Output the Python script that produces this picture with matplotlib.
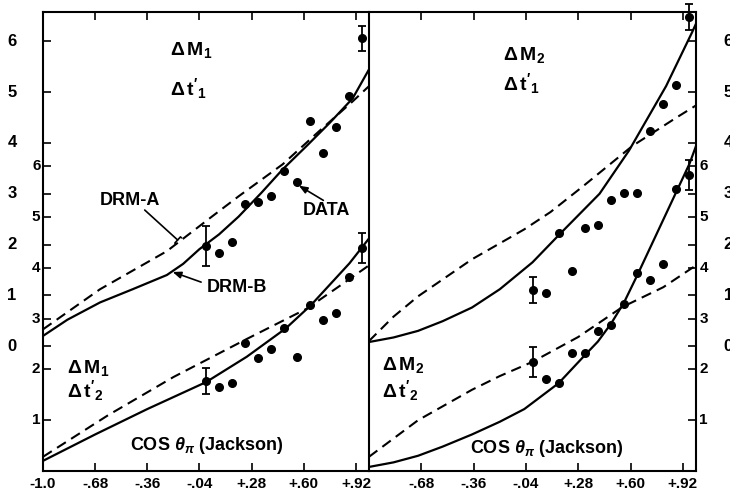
import matplotlib
matplotlib.use("Agg")
import matplotlib.pyplot as plt
import numpy as np

plt.rcParams["font.family"] = ["Liberation Sans", "DejaVu Sans"]
plt.rcParams["font.weight"] = "bold"
plt.rcParams["mathtext.fontset"] = "custom"
plt.rcParams["mathtext.rm"] = "Liberation Sans:bold"
plt.rcParams["mathtext.it"] = "Liberation Sans:bold:italic"
plt.rcParams["mathtext.bf"] = "Liberation Sans:bold"
plt.rcParams["mathtext.sf"] = "Liberation Sans:bold"

# x axis
x_ticks = [-1.0, -0.68, -0.36, -0.04, 0.28, 0.60, 0.92]
x_labels = ["-1.0", "-.68", "-.36", "-.04", "+.28", "+.60", "+.92"]

# upper curves use the outer scale, lower curves the inner scale
OFFSET = 2.46
YTOP = 9.04
outer_ticks = [0, 1, 2, 3, 4, 5, 6]
inner_ticks = [1, 2, 3, 4, 5, 6]

# data points (cos theta bins)
cos_bins = [0.0, 0.08, 0.16, 0.24, 0.32, 0.40, 0.48, 0.56, 0.64, 0.72, 0.80, 0.88, 0.96]
err_idx = [0, 12]

m1_t1 = [1.97, 1.83, 2.05, 2.80, 2.84, 2.96, 3.45, 3.23, 4.43, 3.80, 4.31, 4.92, 6.06]
m1_t1_err = [0.40, 0.25]
m1_t2 = [1.77, 1.65, 1.73, 2.52, 2.22, 2.40, 2.81, 2.24, 3.27, 2.97, 3.11, 3.82, 4.39]
m1_t2_err = [0.25, 0.30]
m2_t1 = [1.10, 1.04, 2.22, 1.48, 2.32, 2.38, 2.87, 3.01, 3.01, 4.23, 4.76, 5.14, 6.48]
m2_t1_err = [0.26, 0.25]
m2_t2 = [2.15, 1.81, 1.73, 2.32, 2.32, 2.76, 2.87, 3.29, 3.90, 3.76, 4.07, 5.55, 5.83]
m2_t2_err = [0.30, 0.30]

# model curves: DRM-B solid, DRM-A dashed
m1_t1_b_x = [-1.0, -0.85, -0.65, -0.45, -0.24, -0.14, -0.04, 0.08, 0.2, 0.34, 0.47, 0.62, 0.76, 0.9, 1.0]
m1_t1_b_y = [0.20, 0.52, 0.86, 1.12, 1.40, 1.62, 1.91, 2.20, 2.55, 3.02, 3.48, 3.95, 4.40, 4.88, 5.45]
m1_t1_a_x = [-1.0, -0.65, -0.24, 0.04, 0.2, 0.47, 0.7, 0.9, 1.0]
m1_t1_a_y = [0.33, 1.12, 1.87, 2.56, 2.95, 3.58, 4.25, 4.82, 5.12]

m1_t2_b_x = [-1.0, -0.68, -0.36, 0.0, 0.25, 0.49, 0.645, 0.88, 1.0]
m1_t2_b_y = [0.20, 0.72, 1.22, 1.75, 2.25, 2.81, 3.27, 4.09, 4.58]
m1_t2_a_x = [-1.0, -0.6, -0.2, 0.25, 0.62, 0.8, 1.0]
m1_t2_a_y = [0.28, 1.10, 1.85, 2.60, 3.20, 3.60, 4.05]

m2_t1_b_x = [-1.0, -0.85, -0.70, -0.55, -0.37, -0.2, 0.0, 0.165, 0.41, 0.59, 0.817, 0.976, 1.0]
m2_t1_b_y = [0.08, 0.17, 0.30, 0.49, 0.76, 1.12, 1.65, 2.20, 3.00, 3.85, 5.12, 6.18, 6.35]
m2_t1_a_x = [-1.0, -0.85, -0.70, -0.37, -0.05, 0.11, 0.31, 0.61, 0.88, 1.0]
m2_t1_a_y = [0.10, 0.58, 0.98, 1.71, 2.30, 2.64, 3.15, 3.94, 4.50, 4.74]

m2_t2_b_x = [-1.0, -0.85, -0.70, -0.55, -0.37, -0.2, -0.05, 0.16, 0.32, 0.40, 0.48, 0.56, 0.64,
             0.72, 0.80, 0.88, 0.96, 1.0]
m2_t2_b_y = [0.08, 0.17, 0.30, 0.48, 0.72, 0.97, 1.22, 1.73, 2.28, 2.55, 2.90, 3.32, 3.85,
             4.40, 4.95, 5.50, 6.05, 6.40]
m2_t2_a_x = [-1.0, -0.70, -0.37, -0.2, 0.0, 0.28, 0.55, 0.8, 1.0]
m2_t2_a_y = [0.28, 1.00, 1.60, 1.87, 2.15, 2.64, 3.23, 3.62, 4.05]


def draw_points(ax, vals, errs, shift):
    y = np.array(vals) + shift
    ax.plot(cos_bins, y, "o", ms=5.5, color="k", clip_on=False, zorder=4)
    ex = [cos_bins[i] for i in err_idx]
    ey = [y[i] for i in err_idx]
    ax.errorbar(ex, ey, yerr=errs, fmt="none", ecolor="k", elinewidth=1.3,
                capsize=3, capthick=1.3, clip_on=False, zorder=4)


def draw_curves(ax, bx, by, axx, ay, shift):
    ax.plot(bx, np.array(by) + shift, color="k", lw=1.6, zorder=3)
    ax.plot(axx, np.array(ay) + shift, color="k", lw=1.5, dashes=(5, 3), zorder=3)


def setup_axes(ax, side):
    ax.set_xlim(-1.0, 1.0)
    ax.set_ylim(0, YTOP)
    ax.set_xticks(x_ticks)
    if side == "left":
        ax.set_xticklabels(x_labels)
    else:
        ax.set_xticklabels([""] + x_labels[1:])
    ax.tick_params(axis="x", direction="in", top=True, bottom=True, length=6,
                   width=1.2, labelsize=11, pad=4)
    yt = sorted(inner_ticks + [v + OFFSET for v in outer_ticks])
    ax.set_yticks(yt)
    ax.set_yticklabels([])
    tr = ax.get_yaxis_transform()
    if side == "left":
        ax.tick_params(axis="y", direction="in", left=True, right=False,
                       length=6, width=1.2)
        ax.spines["right"].set_visible(False)
        for v in inner_ticks:
            ax.text(-0.008, v, str(v), transform=tr, ha="right", va="center",
                    fontsize=11)
        for v in outer_ticks:
            ax.text(-0.095, v + OFFSET, str(v), transform=tr, ha="center",
                    va="center", fontsize=12)
    else:
        ax.yaxis.tick_right()
        ax.tick_params(axis="y", direction="in", left=False, right=True,
                       length=6, width=1.2)
        for v in inner_ticks:
            ax.text(1.01, v, str(v), transform=tr, ha="left", va="center",
                    fontsize=11)
        for v in outer_ticks:
            ax.text(1.085, v + OFFSET, str(v), transform=tr, ha="left",
                    va="center", fontsize=12)
    for s in ax.spines.values():
        s.set_linewidth(1.5)


fig = plt.figure(figsize=(7.3, 4.94), dpi=100)
ax1 = fig.add_axes([43 / 730, 23 / 494, 326 / 730, 459 / 494])
ax2 = fig.add_axes([369 / 730, 23 / 494, 327 / 730, 459 / 494])
setup_axes(ax1, "left")
setup_axes(ax2, "right")

# left panel: delta M1
draw_curves(ax1, m1_t1_b_x, m1_t1_b_y, m1_t1_a_x, m1_t1_a_y, OFFSET)
draw_curves(ax1, m1_t2_b_x, m1_t2_b_y, m1_t2_a_x, m1_t2_a_y, 0)
draw_points(ax1, m1_t1, m1_t1_err, OFFSET)
draw_points(ax1, m1_t2, m1_t2_err, 0)

# right panel: delta M2
draw_curves(ax2, m2_t1_b_x, m2_t1_b_y, m2_t1_a_x, m2_t1_a_y, OFFSET)
draw_curves(ax2, m2_t2_b_x, m2_t2_b_y, m2_t2_a_x, m2_t2_a_y, 0)
draw_points(ax2, m2_t1, m2_t1_err, OFFSET)
draw_points(ax2, m2_t2, m2_t2_err, 0)

# panel labels
lab = dict(fontsize=14, ha="left", va="center")
ax1.text(-0.22, 8.29, r"$\Delta\,\mathrm{M}_{1}$", **lab)
ax1.text(-0.22, 7.54, r"$\Delta\,\mathrm{t}'_{1}$", **lab)
ax1.text(-0.85, 2.02, r"$\Delta\,\mathrm{M}_{1}$", **lab)
ax1.text(-0.85, 1.58, r"$\Delta\,\mathrm{t}'_{2}$", **lab)
ax2.text(-0.18, 8.19, r"$\Delta\,\mathrm{M}_{2}$", **lab)
ax2.text(-0.18, 7.64, r"$\Delta\,\mathrm{t}'_{1}$", **lab)
ax2.text(-0.92, 2.08, r"$\Delta\,\mathrm{M}_{2}$", **lab)
ax2.text(-0.92, 1.58, r"$\Delta\,\mathrm{t}'_{2}$", **lab)

ax1.text(0.003, 0.51, r"COS $\theta_{\pi}$ (Jackson)", fontsize=13,
         ha="center", va="center")
ax2.text(0.09, 0.45, r"COS $\theta_{\pi}$ (Jackson)", fontsize=13,
         ha="center", va="center")

# annotations
ax1.text(-0.468, 5.33, "DRM-A", fontsize=13, ha="center", va="center")
ax1.annotate("", xy=(-0.174, 4.55), xytext=(-0.376, 5.14),
             arrowprops=dict(arrowstyle="-[, widthB=0.3, lengthB=0.1", lw=1.2,
                             color="k", shrinkA=0, shrinkB=0))
ax1.text(0.187, 3.62, "DRM-B", fontsize=13, ha="center", va="center")
ax1.annotate("", xy=(-0.205, 3.92), xytext=(-0.03, 3.72),
             arrowprops=dict(arrowstyle="-|>, head_length=0.5, head_width=0.2",
                             lw=1.2, color="k", shrinkA=0, shrinkB=0))
ax1.text(0.737, 5.14, "DATA", fontsize=13, ha="center", va="center")
ax1.annotate("", xy=(0.57, 5.62), xytext=(0.72, 5.33),
             arrowprops=dict(arrowstyle="-|>, head_length=0.5, head_width=0.2",
                             lw=1.2, color="k", shrinkA=0, shrinkB=0))

fig.savefig("out.png", dpi=100)
